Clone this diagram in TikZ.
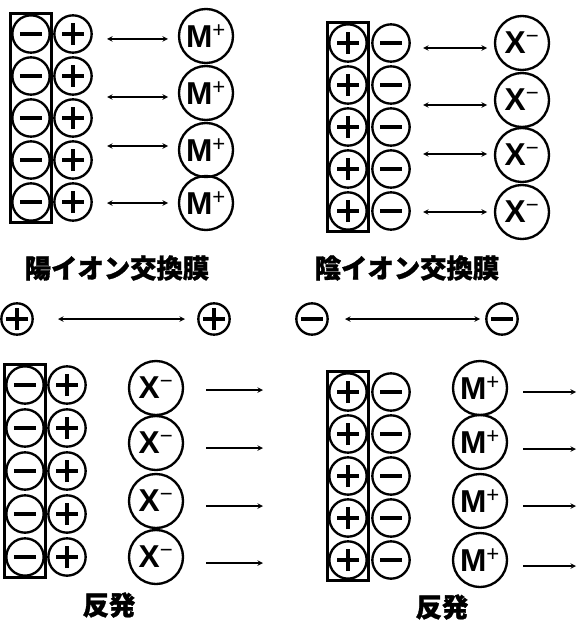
\documentclass[tikz,border=0pt]{standalone}
\usepackage{fontspec}
\setmainfont{Liberation Sans}
\newfontfamily\jpfont[BoldFeatures={FakeBold=1.2}]{Noto Sans CJK JP}
\usetikzlibrary{shapes,arrows,positioning,fit}

\begin{document}
\begin{tikzpicture}[x=0.03cm, y=-0.03cm,
    ion/.style={circle, draw, line width=2pt, minimum size=1.12cm, inner sep=0pt},
    posion/.style={ion, path picture={\draw[line width=2.8pt] (path picture bounding box.center) ++(-0.33cm,0cm) -- ++(0.66cm,0cm) (path picture bounding box.center) ++(0cm,-0.33cm) -- ++(0cm,0.66cm);}},
    negion/.style={ion, path picture={\draw[line width=2.8pt] (path picture bounding box.center) ++(-0.33cm,0cm) -- ++(0.66cm,0cm);}},
    smallion/.style={minimum size=0.94cm},
    bigion/.style={circle, draw, line width=2pt, minimum size=1.62cm, inner sep=0pt, font=\fontsize{27}{27}\selectfont\bfseries},
    membrane/.style={draw, line width=2.2pt, inner sep=0.4pt},
    arrow/.style={->, >=stealth, line width=1.1pt},
    dblarrow/.style={<->, >=stealth, line width=1.1pt},
    jplabel/.style={font=\fontsize{22.5}{22.5}\selectfont\jpfont\bfseries},
]
    \useasboundingbox (0,0) rectangle (577,621);

    % cation exchange membrane
    \foreach \i in {1,...,5} {
        \node[negion] (tlf\i) at (31,{34+42*(\i-1)}) {};
        \node[posion] (tlc\i) at (73,{34+42*(\i-1)}) {};
    }
    \node[membrane, fit=(tlf1)(tlf5)] (tlbox) {};
    \foreach \y [count=\i] in {36,93,150,203}
        \node[bigion] (tlm\i) at (206,\y) {M\textsuperscript{\mdseries+}};
    \foreach \y [count=\i] in {39,97,146,203} {
        \coordinate (tla\i) at (107,\y);
        \coordinate (tlb\i) at (168,\y);
        \draw[dblarrow] (tla\i) -- (tlb\i);
    }

    % anion exchange membrane
    \foreach \i in {1,...,5} {
        \node[posion] (trf\i) at (348,{43+42*(\i-1)}) {};
        \node[negion] (trc\i) at (391,{43+42*(\i-1)}) {};
    }
    \node[membrane, fit=(trf1)(trf5)] (trbox) {};
    \foreach \y [count=\i] in {43,100,155,212}
        \node[bigion] (trx\i) at (522,\y) {X\textsuperscript{\mdseries−}};
    \foreach \y [count=\i] in {48,105,154,212} {
        \coordinate (tra\i) at (423,\y);
        \coordinate (trb\i) at (487,\y);
        \draw[dblarrow] (tra\i) -- (trb\i);
    }

    \node[jplabel] (cationlbl) at (117,268) {陽イオン交換膜};
    \node[jplabel] (anionlbl) at (407,268) {陰イオン交換膜};

    % like charges
    \node[posion, smallion] (pp1) at (17,319) {};
    \node[posion, smallion] (pp2) at (214,319) {};
    \coordinate (ppa) at (58,319);
    \coordinate (ppb) at (185,319);
    \draw[dblarrow] (ppa) -- (ppb);
    \node[negion, smallion] (nn1) at (312,319) {};
    \node[negion, smallion] (nn2) at (502,319) {};
    \coordinate (nna) at (345,319);
    \coordinate (nnb) at (480,319);
    \draw[dblarrow] (nna) -- (nnb);

    % repulsion, cation membrane
    \foreach \i in {1,...,5} {
        \node[negion] (blf\i) at (25,{385+43*(\i-1)}) {};
        \node[posion] (blc\i) at (67,{385+43*(\i-1)}) {};
    }
    \node[membrane, fit=(blf1)(blf5)] (blbox) {};
    \foreach \y [count=\i] in {388,443,501,557}
        \node[bigion] (blx\i) at (156,\y) {X\textsuperscript{\mdseries−}};
    \foreach \y [count=\i] in {390,448,506,563} {
        \coordinate (bla\i) at (206,\y);
        \coordinate (blb\i) at (263,\y);
        \draw[arrow] (bla\i) -- (blb\i);
    }
    \node[jplabel] (blrep) at (109,605) {反発};

    % repulsion, anion membrane
    \foreach \i in {1,...,5} {
        \node[posion] (brf\i) at (348,{392+42*(\i-1)}) {};
        \node[negion] (brc\i) at (391,{392+42*(\i-1)}) {};
    }
    \node[membrane, fit=(brf1)(brf5)] (brbox) {};
    \foreach \y [count=\i] in {388,442,501,560}
        \node[bigion] (brm\i) at (480,\y) {M\textsuperscript{\mdseries+}};
    \foreach \y [count=\i] in {392,449,506,566} {
        \coordinate (bra\i) at (523,\y);
        \coordinate (brb\i) at (576,\y);
        \draw[arrow] (bra\i) -- (brb\i);
    }
    \node[jplabel] (brrep) at (442,607) {反発};
\end{tikzpicture}
\end{document}
